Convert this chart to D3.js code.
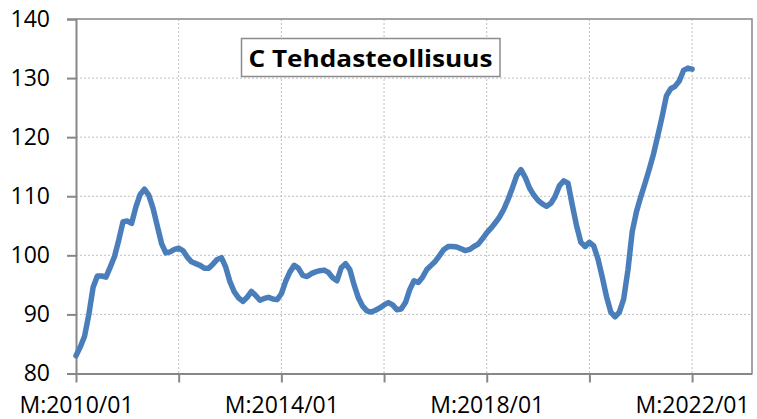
<!DOCTYPE html>
<html>
<head>
<meta charset="utf-8">
<script src="https://cdn.jsdelivr.net/npm/d3@7"></script>
<style>
  html, body { margin: 0; padding: 0; background: #fff; }
  svg { display: block; }
</style>
</head>
<body>
<svg id="chart" width="757" height="419"></svg>
<script>
// Monthly index series, C Tehdasteollisuus, from 2010/01 onward
const startYear = 2010;
const values = [
  83.0, 84.5, 86.3, 90.0, 94.6, 96.5, 96.5, 96.3, 98.0, 99.8, 102.6, 105.7,
  105.8, 105.4, 108.2, 110.3, 111.2, 110.2, 108.0, 105.0, 102.0, 100.4, 100.6, 101.0,
  101.2, 100.8, 99.7, 98.9, 98.6, 98.3, 97.8, 97.8, 98.5, 99.3, 99.6, 98.0,
  95.5, 93.8, 92.8, 92.2, 92.9, 93.9, 93.2, 92.4, 92.7, 92.9, 92.6, 92.5,
  93.5, 95.6, 97.2, 98.3, 97.8, 96.6, 96.4, 96.9, 97.2, 97.4, 97.5, 97.1,
  96.2, 95.7, 97.9, 98.6, 97.6, 95.0, 92.8, 91.4, 90.6, 90.4, 90.7, 91.1,
  91.6, 92.0, 91.6, 90.8, 90.9, 92.0, 94.2, 95.7, 95.4, 96.3, 97.6, 98.3,
  99.0, 100.0, 101.0, 101.5, 101.5, 101.4, 101.1, 100.8, 101.0, 101.5, 101.9, 102.8,
  103.8, 104.6, 105.5, 106.5, 107.8, 109.5, 111.4, 113.5, 114.5, 113.2, 111.4, 110.2,
  109.3, 108.7, 108.3, 108.8, 110.0, 111.8, 112.6, 112.2, 108.5, 105.0, 102.2, 101.5,
  102.2, 101.6, 99.4, 96.3, 93.0, 90.4, 89.6, 90.4, 92.6, 97.5, 104.0, 107.4,
  109.9, 112.2, 114.6, 117.2, 120.3, 123.5, 127.0, 128.2, 128.6, 129.5, 131.3, 131.7,
  131.5
];
// Category labels "M:YYYY/MM", one per value
const categories = values.map((_, i) =>
  "M:" + (startYear + Math.floor(i / 12)) + "/" + String(i % 12 + 1).padStart(2, "0"));

const yTicks = [80, 90, 100, 110, 120, 130, 140];
const xTickIdx = [0, 24, 48, 72, 96, 120, 144];       // tick marks every two years
const xLabelIdx = [0, 48, 96, 144];                    // labelled every four years
const title = "C Tehdasteollisuus";

(function draw() {
  const svg = d3.select("#chart");
  const pl = 76, pr = 752, pt = 19, pb = 373.5;
  const axisSpan = 158; // months shown on the category axis

  const x = d3.scaleLinear().domain([0, axisSpan]).range([pl, pr]);
  const y = d3.scaleLinear().domain([80, 140]).range([pb, pt]);

  const grid = "#c0c0c0", axisCol = "#878787";
  const font = "'Open Sans', 'Noto Sans', sans-serif";

  // Horizontal gridlines
  svg.append("g").selectAll("line").data(yTicks.filter(v => v > 80 && v < 140)).join("line")
    .attr("x1", pl).attr("x2", pr)
    .attr("y1", d => y(d)).attr("y2", d => y(d))
    .attr("stroke", grid).attr("stroke-width", 1).attr("stroke-dasharray", "2,2");

  // Vertical gridlines
  svg.append("g").selectAll("line").data(xTickIdx.filter(i => i > 0)).join("line")
    .attr("x1", d => x(d)).attr("x2", d => x(d))
    .attr("y1", pt).attr("y2", pb)
    .attr("stroke", grid).attr("stroke-width", 1).attr("stroke-dasharray", "2,2");

  // Plot frame (top and right)
  svg.append("path")
    .attr("d", `M${pl},${pt}H${pr}V${pb}`)
    .attr("fill", "none").attr("stroke", axisCol).attr("stroke-width", 1.5);

  // Y axis
  const yAxis = d3.axisLeft(y).tickValues(yTicks).tickSize(9).tickPadding(17)
    .tickFormat(d3.format("d"));
  const gy = svg.append("g").attr("transform", `translate(${pl},0)`).call(yAxis);
  gy.select(".domain").attr("stroke", axisCol).attr("stroke-width", 2);
  gy.selectAll(".tick line").attr("stroke", axisCol).attr("stroke-width", 2);
  gy.selectAll(".tick text").attr("font-family", font).attr("font-size", 23).attr("fill", "#000");

  // X axis
  const xAxis = d3.axisBottom(x).tickValues(xTickIdx).tickSize(9).tickSizeOuter(0)
    .tickFormat(i => xLabelIdx.includes(i) ? categories[i] : "");
  const gx = svg.append("g").attr("transform", `translate(0,${pb})`).call(xAxis);
  gx.select(".domain").attr("stroke", axisCol).attr("stroke-width", 2);
  gx.selectAll(".tick line").attr("stroke", axisCol).attr("stroke-width", 2);
  gx.selectAll(".tick text").attr("font-family", font).attr("font-size", 23).attr("fill", "#000")
    .attr("dy", "0").attr("y", 39);

  // Series line
  const line = d3.line().x((d, i) => x(i)).y(d => y(d)).curve(d3.curveLinear);
  svg.append("path").datum(values)
    .attr("d", line)
    .attr("fill", "none").attr("stroke", "#4a7ebb").attr("stroke-width", 5.5)
    .attr("stroke-linejoin", "round").attr("stroke-linecap", "round");

  // Title box
  const tb = svg.append("g");
  tb.append("rect").attr("x", 241.5).attr("y", 38.5).attr("width", 258.5).attr("height", 38)
    .attr("fill", "#fff").attr("stroke", "#8c8c8c").attr("stroke-width", 1.5);
  tb.append("text").attr("x", 370.5).attr("y", 67)
    .attr("text-anchor", "middle").attr("font-family", font).attr("font-weight", "bold")
    .attr("font-size", 23.5).attr("textLength", 244).attr("lengthAdjust", "spacingAndGlyphs")
    .attr("fill", "#000").text(title);
})();
</script>
</body>
</html>
